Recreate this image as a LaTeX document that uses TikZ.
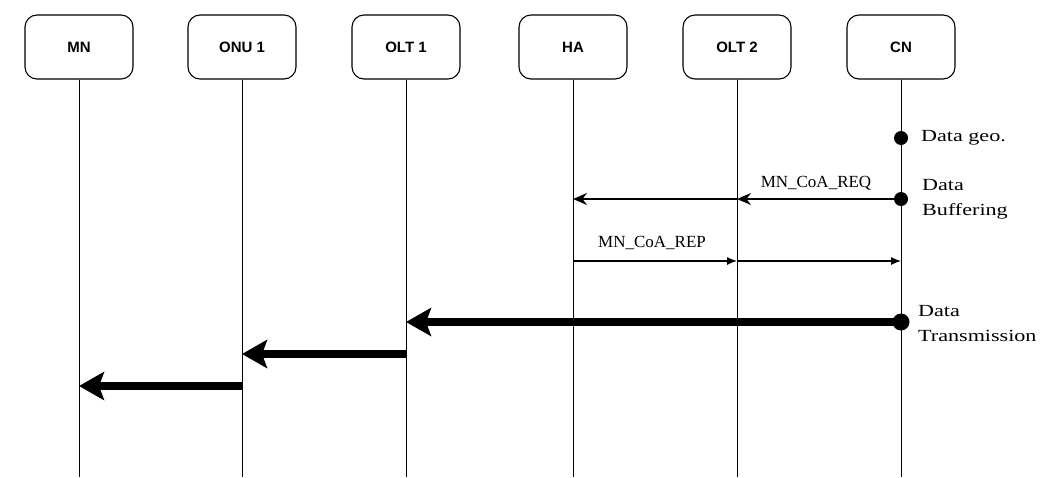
\documentclass[tikz,border=0pt]{standalone}
\usepackage{fontspec}
\setmainfont{Liberation Serif}
\newfontfamily\boxfont{Liberation Sans}
\newfontfamily\widefont[FakeStretch=1.3]{Liberation Serif}
\usetikzlibrary{arrows.meta}
\begin{document}
\begin{tikzpicture}[x=1pt,y=-1pt,
  actor/.style={draw, rounded corners=12pt, minimum width=108pt, minimum height=64pt,
    line width=1.1pt, font=\boxfont\bfseries\fontsize{15}{17}\selectfont},
  life/.style={line width=0.9pt},
  evdot/.style={circle, fill=black, inner sep=0pt, minimum size=14pt},
  bigdot/.style={circle, fill=black, inner sep=0pt, minimum size=17pt},
  reqarrow/.style={line width=1.8pt, -{Stealth[length=14pt,width=12pt]}},
  reparrow/.style={line width=1.2pt, -{Latex[length=10pt,width=8pt]}},
  datarrow/.style={line width=8pt, -{Stealth[length=25pt,width=28pt,inset=5pt]}},
  lbl/.style={font=\fontsize{17}{24}\selectfont, inner sep=0pt, align=left},
  sidelbl/.style={font=\widefont\fontsize{17}{25}\selectfont, inner sep=0pt, align=left}
]
\useasboundingbox (0,0) rectangle (1056,477);

% actors
\node[actor] (mn)   at (79,47)  {MN};
\node[actor] (onu1) at (242,47) {ONU 1};
\node[actor] (olt1) at (406,47) {OLT 1};
\node[actor] (ha)   at (573,47) {HA};
\node[actor] (olt2) at (737,47) {OLT 2};
\node[actor] (cn)   at (901,47) {CN};

% lifeline ends
\foreach \a in {mn,onu1,olt1,ha,olt2,cn}{
  \coordinate (\a-end) at (\a |- 0,477);
  \draw[life] (\a.south) -- (\a-end);
}

% event points
\coordinate (cn-geo)  at (cn |- 0,138);
\coordinate (cn-req)  at (cn |- 0,199);
\coordinate (olt2-req) at (olt2 |- 0,199);
\coordinate (ha-req)  at (ha |- 0,199);
\coordinate (ha-rep)  at (ha |- 0,261);
\coordinate (olt2-rep) at (olt2 |- 0,261);
\coordinate (cn-rep)  at (cn |- 0,261);
\coordinate (cn-dt)   at (cn |- 0,322);
\coordinate (olt1-dt) at (olt1 |- 0,322);
\coordinate (olt1-d2) at (olt1 |- 0,354);
\coordinate (onu1-d2) at (onu1 |- 0,354);
\coordinate (onu1-d3) at (onu1 |- 0,386);
\coordinate (mn-d3)   at (mn |- 0,386);

% Data geo.
\node[evdot] (dgeo) at (cn-geo) {};
\node[sidelbl, anchor=west] (tgeo) at (921,138) {Data geo.};

% MN_CoA_REQ
\draw[reqarrow] (cn-req) -- (olt2-req);
\draw[reqarrow] (olt2-req) -- (ha-req);
\node[evdot] (dbuf) at (cn-req) {};
\node[lbl] (treq) at (816,183) {MN\_CoA\_REQ};
\node[sidelbl, anchor=west] (tbuf) at (922,199) {Data\\Buffering};

% MN_CoA_REP
\draw[reparrow] (ha-rep) -- (olt2-rep);
\draw[reparrow] (olt2-rep) -- (cn-rep);
\node[lbl] (trep) at (652,243) {MN\_CoA\_REP};

% Data transmission
\draw[datarrow] (cn-dt) -- (olt1-dt);
\node[bigdot] (ddt) at (cn-dt) {};
\node[sidelbl, anchor=west] (tdt) at (918,324) {Data\\Transmission};
\draw[datarrow] (olt1-d2) -- (onu1-d2);
\draw[datarrow] (onu1-d3) -- (mn-d3);
\end{tikzpicture}
\end{document}
